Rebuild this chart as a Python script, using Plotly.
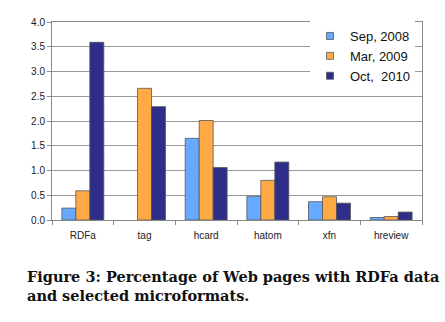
import plotly.graph_objects as go

categories = ["RDFa", "tag", "hcard", "hatom", "xfn", "hreview"]
series_names = ["Sep, 2008", "Mar, 2009", "Oct,  2010"]
sep_2008 = [0.24, None, 1.65, 0.48, 0.37, 0.05]
mar_2009 = [0.59, 2.66, 2.01, 0.80, 0.47, 0.07]
oct_2010 = [3.59, 2.29, 1.06, 1.17, 0.34, 0.16]
y_ticks = [0.0, 0.5, 1.0, 1.5, 2.0, 2.5, 3.0, 3.5, 4.0]
caption_lines = ["Figure 3: Percentage of Web pages with RDFa data",
                 "and selected microformats."]

colors = ["#66aaff", "#ffaa44", "#2e2e8a"]
outline = "#555555"

fig = go.Figure()
for name, vals, col in zip(series_names, [sep_2008, mar_2009, oct_2010], colors):
    fig.add_trace(go.Bar(x=categories, y=vals, name=name, showlegend=False,
                         legendgroup=name,
                         marker=dict(color=col, line=dict(color=outline, width=0.8))))
    fig.add_trace(go.Scatter(x=[None], y=[None], mode="markers", name=name,
                             legendgroup=name,
                             marker=dict(symbol="square", size=7, color=col,
                                         line=dict(color=outline, width=0.8))))

W, H = 445, 322
ml, mr, mt, mb = 52, 23, 22, 102
pw, ph = W - ml - mr, H - mt - mb

def px_x(x):
    return (x - ml) / pw

def px_y(y):
    return (H - mb - y) / ph

fig.update_layout(
    width=W, height=H,
    margin=dict(l=ml, r=mr, t=mt, b=mb, pad=0),
    paper_bgcolor="white", plot_bgcolor="white",
    barmode="group", bargap=0.32, bargroupgap=0,
    font=dict(family="Liberation Sans, Arial, sans-serif", size=10, color="#222222"),
    legend=dict(x=px_x(310), y=px_y(21), xanchor="left", yanchor="top",
                bgcolor="white", borderwidth=0,
                font=dict(size=13, color="#111111"),
                itemwidth=30, tracegroupgap=0),
    showlegend=True,
)
fig.update_xaxes(type="category", categoryorder="array", categoryarray=categories,
                 showgrid=False, showline=True, linecolor="#888888", linewidth=1,
                 mirror=True, ticks="outside", tickson="boundaries", ticklen=4,
                 tickcolor="#888888", ticklabelstandoff=6,
                 tickfont=dict(size=10, color="#222222"))
fig.update_yaxes(range=[0, 4], tickvals=y_ticks, tickformat=".1f",
                 showgrid=True, gridcolor="#999999", gridwidth=1,
                 showline=True, linecolor="#888888", linewidth=1, mirror=True,
                 ticks="outside", ticklen=4, tickcolor="#888888",
                 zeroline=False, tickfont=dict(size=10, color="#222222"))

fig.add_annotation(text="<br>".join("<b>" + l + "</b>" for l in caption_lines),
                   xref="paper", yref="paper",
                   x=px_x(25), y=px_y(266), xanchor="left", yanchor="top",
                   showarrow=False, align="left",
                   font=dict(family="DejaVu Serif", size=14.5, color="#111111"))

fig.write_html("out.html")
